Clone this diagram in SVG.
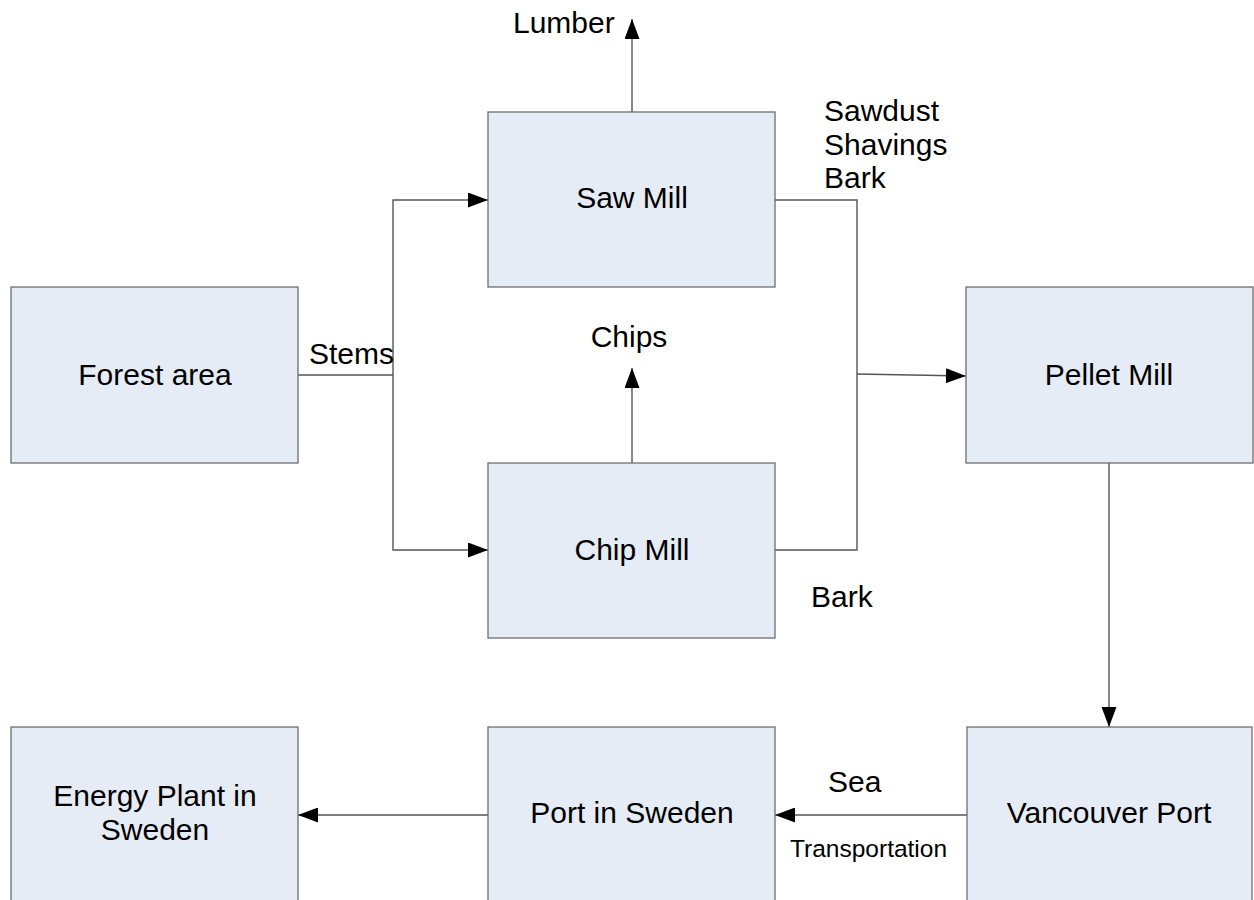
<svg xmlns="http://www.w3.org/2000/svg" width="1254" height="900" viewBox="0 0 1254 900">
<style>
.box{fill:#e6ecf6;stroke:#6e6e6e;stroke-width:1.3}
.t{font-family:"Liberation Sans",Arial,sans-serif;font-size:30px;fill:#000}
.c{text-anchor:middle}
.ln{fill:none;stroke:#555;stroke-width:1.4}
.ar{marker-end:url(#ah)}
</style>
<defs>
<marker id="ah" viewBox="0 0 20 15" refX="20" refY="7.5" markerWidth="20" markerHeight="15" markerUnits="userSpaceOnUse" orient="auto">
<path d="M0,0 L20,7.5 L0,15 z" fill="#000"/>
</marker>
</defs>
<rect width="1254" height="900" fill="#fff"/>
<g id="connectors">
<path class="ln" d="M298,375 H393"/>
<path class="ln ar" d="M393,375 V200 H488"/>
<path class="ln ar" d="M393,375 V550 H488"/>
<path class="ln ar" d="M632,112 V19"/>
<path class="ln ar" d="M632,463 V368"/>
<path class="ln" d="M775,200 H857 V550 H775"/>
<path class="ln ar" d="M857,374 L966,376"/>
<path class="ln ar" d="M1109,463 V727"/>
<path class="ln ar" d="M967,815 H775"/>
<path class="ln ar" d="M488,815 H298"/>
<text class="t" x="309" y="364">Stems</text>
<text class="t" x="513" y="33">Lumber</text>
<text class="t" x="824" y="121">Sawdust</text>
<text class="t" x="824" y="155">Shavings</text>
<text class="t" x="824" y="188">Bark</text>
<text class="t c" x="629" y="347">Chips</text>
<text class="t" x="811" y="607">Bark</text>
<text class="t" x="828" y="792">Sea</text>
<text class="t" x="790" y="857" style="font-size:24.5px">Transportation</text>
</g>
<g id="forest">
<rect class="box" x="11" y="287" width="287" height="176"/>
<text class="t c" x="155" y="385">Forest area</text>
</g>
<g id="sawmill">
<rect class="box" x="488" y="112" width="287" height="175"/>
<text class="t c" x="632" y="208">Saw Mill</text>
</g>
<g id="chipmill">
<rect class="box" x="488" y="463" width="287" height="175"/>
<text class="t c" x="632" y="560">Chip Mill</text>
</g>
<g id="pelletmill">
<rect class="box" x="966" y="287" width="287" height="176"/>
<text class="t c" x="1109" y="385">Pellet Mill</text>
</g>
<g id="vancouver">
<rect class="box" x="967" y="727" width="285" height="190"/>
<text class="t c" x="1109" y="823">Vancouver Port</text>
</g>
<g id="portsweden">
<rect class="box" x="488" y="727" width="287" height="190"/>
<text class="t c" x="632" y="823">Port in Sweden</text>
</g>
<g id="energy">
<rect class="box" x="11" y="727" width="287" height="190"/>
<text class="t c" x="155" y="806">Energy Plant in</text>
<text class="t c" x="155" y="840">Sweden</text>
</g>
</svg>
